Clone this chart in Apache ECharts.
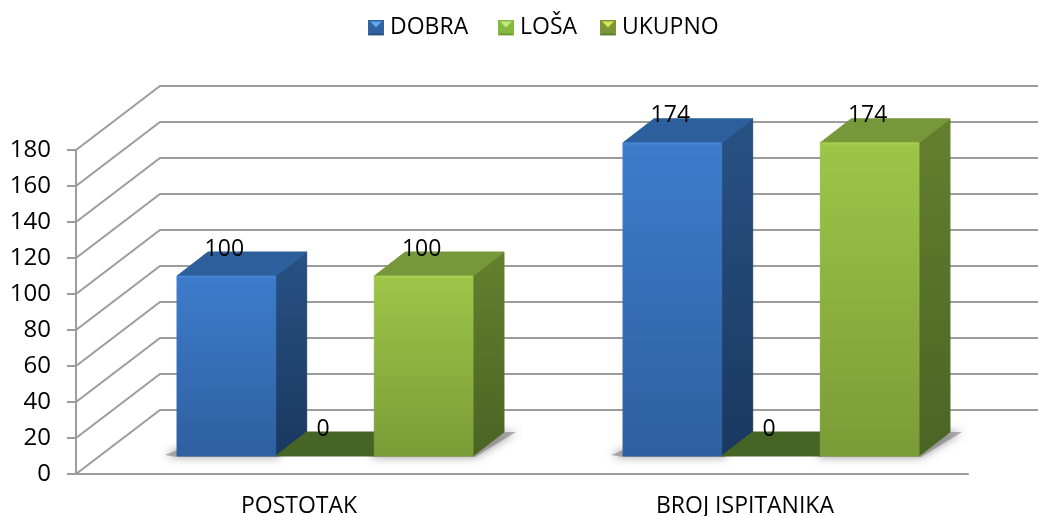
<!DOCTYPE html>
<html><head><meta charset="utf-8">
<style>html,body{margin:0;padding:0;background:#fff}#c{width:1038px;height:516px}</style>
<script src="https://cdn.jsdelivr.net/npm/echarts@6/dist/echarts.min.js"></script>
</head><body><div id="c"></div>
<script>
const categories = ['POSTOTAK', 'BROJ ISPITANIKA'];
const seriesNames = ['DOBRA', 'LOŠA', 'UKUPNO'];
const dobra = [100, 174];
const losa = [0, 0];
const ukupno = [100, 174];
const yTicks = [0, 20, 40, 60, 80, 100, 120, 140, 160, 180];

const FONT = '"Open Sans", sans-serif';
const GRID = '#9c9c9c';
const palette = [
  {front:['#3d7ccc','#2e5f9f'], side:['#285284','#1a3860'], top:'#2c5f9b', zero:'#2c5f9b', hi:'#4a88d6'},
  {front:['#9dc648','#7a9c37'], side:['#64802e','#4a6424'], top:'#456524', zero:'#456524', hi:'#a9d055'},
  {front:['#9dc648','#7a9c37'], side:['#64802e','#4a6424'], top:'#76983a', zero:'#76983a', hi:'#a9d055'}
];
const lin = (a,b)=>new echarts.graphic.LinearGradient(0,0,0,1,[{offset:0,color:a},{offset:1,color:b}]);

// projection of the 3D box, in pixels
const WALL_DX = 84, WALL_DY = 64, FLOOR_DX = 26, FLOOR_DY = 18, DEPTH_DX = 31, DEPTH_DY = 24, BAR_FRAC = 0.2212;

function icon(top, side, bottom){
  const svg = `<svg xmlns="http://www.w3.org/2000/svg" width="16" height="16"><rect width="16" height="16" fill="${side}"/><polygon points="2,2 14,2 8,8" fill="${top}"/><polygon points="0,16 16,16 14,14 2,14" fill="${bottom}"/></svg>`;
  return 'image://data:image/svg+xml;charset=utf-8,' + encodeURIComponent(svg);
}
const icons = [icon('#62a6ea','#2f629f','#234f80'), icon('#c2e87e','#84b93f','#6a9a30'), icon('#d4e653','#7a9636','#5d7a2c')];

function barRender(si){
  return function(params, api){
    const p = palette[si];
    const c = api.coord([api.value(0), api.value(1)]);
    const b = api.coord([api.value(0), 0]);
    const band = api.size([1,0])[0];
    const w = band*BAR_FRAC;
    const x0 = c[0]+FLOOR_DX+(si-1.5)*w, x1 = x0+w;
    const yt = c[1]-FLOOR_DY, yb = b[1]-FLOOR_DY;
    const kids = [];
    const poly = (pts, fill)=>kids.push({type:'polygon', shape:{points:pts}, style:{fill, stroke:fill, lineWidth:1, lineJoin:'round'}});
    if (api.value(1) > 0) {
      poly([[x1,yt],[x1+DEPTH_DX,yt-DEPTH_DY],[x1+DEPTH_DX,yb-DEPTH_DY],[x1,yb]], lin(p.side[0],p.side[1]));
      poly([[x0,yt],[x0+DEPTH_DX,yt-DEPTH_DY],[x1+DEPTH_DX,yt-DEPTH_DY],[x1,yt]], p.top);
      poly([[x0,yt],[x1,yt],[x1,yb],[x0,yb]], lin(p.front[0],p.front[1]));
      kids.push({type:'line', shape:{x1:x0+1,y1:yt+1,x2:x1-1,y2:yt+1}, style:{stroke:p.hi,lineWidth:2,opacity:.7}});
    } else {
      poly([[x0,yb],[x0+DEPTH_DX,yb-DEPTH_DY],[x1+DEPTH_DX,yb-DEPTH_DY],[x1,yb]], p.zero);
    }
    kids.push({type:'text', z2:50, style:{text:String(api.value(1)), x:(x0+x1)/2-2, y:yt-27, fill:'#000',
      font:'23px '+FONT, textAlign:'center', textVerticalAlign:'middle'}});
    return {type:'group', children:kids};
  };
}

const barSeries = [dobra, losa, ukupno].map((vals,si)=>({
  type:'custom', name:seriesNames[si], z:5, silent:true, animation:false,
  data:vals.map((v,i)=>[i,v]), encode:{x:0,y:1}, renderItem:barRender(si),
  itemStyle:{color:palette[si].front[0]}
}));

const gridSeries = {
  type:'custom', name:'grid', z:1, silent:true, animation:false, clip:false,
  data:yTicks.map(v=>[0,v]), encode:{x:0,y:1},
  renderItem(params, api){
    const cs = params.coordSys, y = api.coord([0,api.value(1)])[1];
    return {type:'polyline', shape:{points:[[cs.x,y],[cs.x+WALL_DX,y-WALL_DY],[cs.x+cs.width+WALL_DX,y-WALL_DY]]},
      style:{stroke:GRID,lineWidth:2,fill:null}};
  }
};

const shadowSeries = {
  type:'custom', name:'shadow', z:3, silent:true, animation:false,
  data:[dobra, ukupno].flatMap((vals,k)=>vals.map((v,i)=>[i,k===0?0:2])), encode:{x:0},
  renderItem(params, api){
    const b = api.coord([api.value(0),0]);
    const w = api.size([1,0])[0]*BAR_FRAC;
    const x0 = b[0]+FLOOR_DX+(api.value(1)-1.5)*w, x1=x0+w, yb=b[1]-FLOOR_DY;
    const pts = api.value(1)===0
      ? [[x0-12,yb-1],[x0,yb-6],[x1+4,yb-6],[x1+4,yb+1],[x0,yb+1]]
      : [[x0-2,yb-6],[x1+DEPTH_DX,yb-DEPTH_DY],[x1+DEPTH_DX+12,yb-DEPTH_DY],[x1+2,yb+1],[x0-2,yb+1]];
    return {type:'polygon', shape:{points:pts}, style:{fill:'rgba(120,120,120,.55)',shadowBlur:10,shadowColor:'rgba(70,70,70,1)'}};
  }
};

const legendAt = [368, 498, 600].map((left,i)=>({
  left, top:16, padding:0, orient:'horizontal', itemWidth:16, itemHeight:16, itemGap:0, selectedMode:false,
  textStyle:{fontFamily:FONT, fontSize:23, color:'#000', padding:[2,0,0,1]},
  data:[{name:seriesNames[i], icon:icons[i]}]
}));

const chart = echarts.init(document.getElementById('c'), null, {renderer:'canvas'});
chart.setOption({
  animation:false, backgroundColor:'#fff',
  legend:legendAt,
  grid:{left:76, right:70, top:150, bottom:42, containLabel:false, outerBoundsMode:'none'},
  xAxis:{type:'category', data:categories, boundaryGap:true,
    axisLine:{show:true, lineStyle:{color:GRID,width:2}}, axisTick:{show:false},
    axisLabel:{fontFamily:FONT, fontSize:23, color:'#000', margin:21}},
  yAxis:{type:'value', min:0, max:180, interval:20,
    axisLine:{show:true, lineStyle:{color:GRID,width:2}},
    axisTick:{show:true, length:9, lineStyle:{color:GRID,width:2}},
    splitLine:{show:false},
    axisLabel:{fontFamily:FONT, fontSize:24, color:'#000', margin:25, padding:[10,0,0,0]}},
  series:[gridSeries, shadowSeries, ...barSeries]
});
</script></body></html>
